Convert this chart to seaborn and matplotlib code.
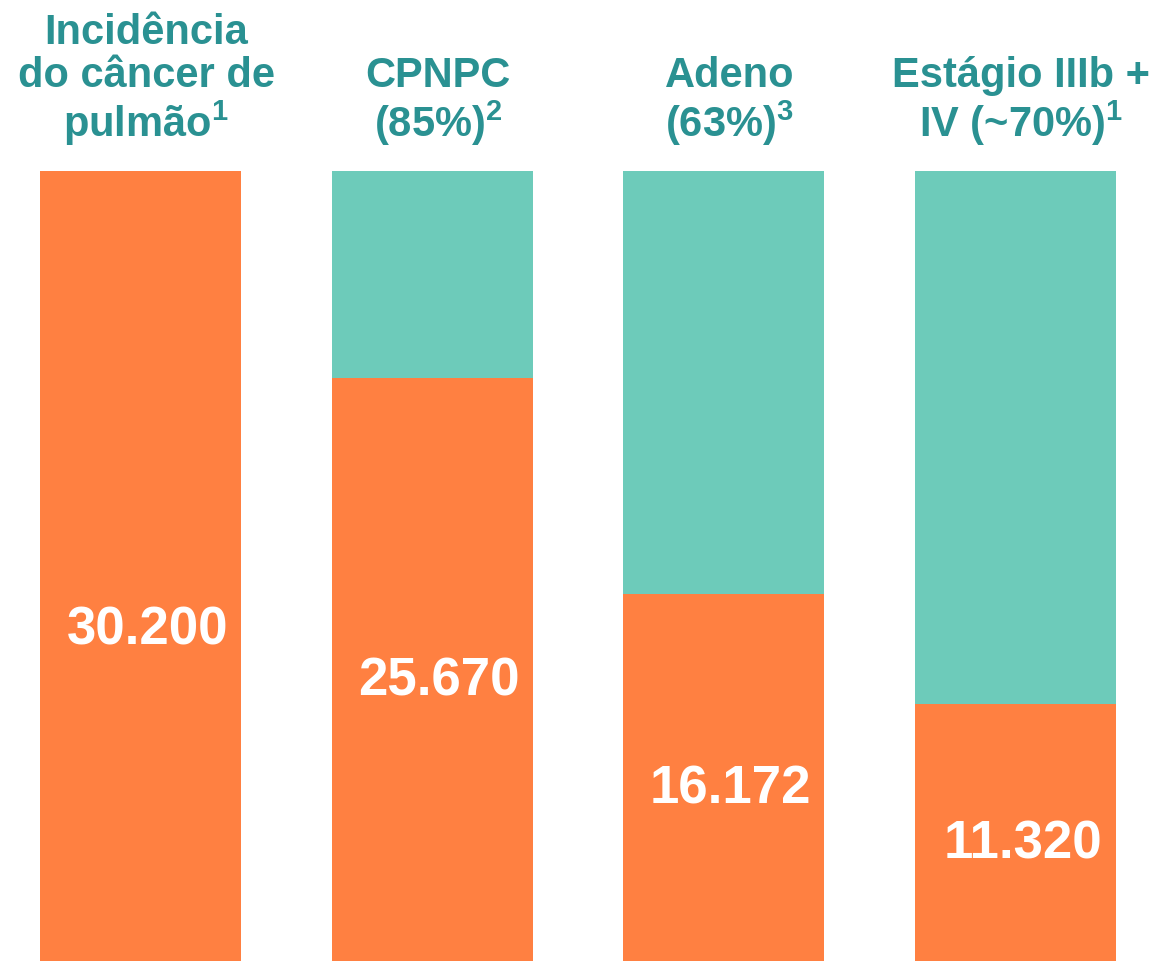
import matplotlib
matplotlib.use("Agg")
import matplotlib.pyplot as plt
import seaborn as sns
import pandas as pd

# ---- data ----
categories = ["Incidência\ndo câncer de\npulmão$^{\\mathbf{1}}$", "CPNPC\n(85%)$^{\\mathbf{2}}$",
              "Adeno\n(63%)$^{\\mathbf{3}}$", "Estágio IIIb +\nIV (~70%)$^{\\mathbf{1}}$"]
total_cases = [30200, 30200, 30200, 30200]
subset_cases = [30200, 25670, 16172, 11320]

ORANGE = "#FF8041"
TEAL = "#6DCBBA"
TITLE = "#2A9192"

sns.set_theme(style="white")
plt.rcParams["font.family"] = ["Liberation Sans", "DejaVu Sans"]
plt.rcParams["mathtext.fontset"] = "custom"
plt.rcParams["mathtext.rm"] = "Liberation Sans:bold"
plt.rcParams["mathtext.it"] = "Liberation Sans:bold"
plt.rcParams["mathtext.bf"] = "Liberation Sans:bold"

W, H = 1163, 962
fig = plt.figure(figsize=(W / 100, H / 100), dpi=100)
ax_h = 790 / H
ax = fig.add_axes([0, 0, 1, ax_h])

# extra cap shape on top of each bar (as in the slide)
cap_frac = 104 / 686
df = pd.DataFrame({
    "cat": categories,
    "total": total_cases,
    "value": subset_cases,
})
df["bg"] = df["total"] * (1 + cap_frac)
df["fg"] = [v + t * cap_frac if v >= t else v for v, t in zip(df["value"], df["total"])]

sns.barplot(data=df, x="cat", y="bg", color=TEAL, width=0.69, saturation=1,
            ax=ax, linewidth=0)
sns.barplot(data=df, x="cat", y="fg", color=ORANGE, width=0.69, saturation=1,
            ax=ax, linewidth=0)

spacing = 291.67
ax.set_xlim(-140.5 / spacing, (W - 140.5) / spacing)
ax.set_ylim(0, df["bg"].max())
ax.axis("off")

for i, (v, t) in enumerate(zip(subset_cases, total_cases)):
    label = f"{v:,}".replace(",", ".")
    ax.annotate(label, xy=(i, min(v, t) / 2), xytext=(5, -8), textcoords="offset points",
                ha="center", va="center", color="white", fontsize=38, fontweight="bold")

for i, cat in enumerate(categories):
    ax.annotate(cat, xy=(i, 1), xycoords=("data", "axes fraction"),
                xytext=(4, 25), textcoords="offset points",
                ha="center", va="baseline", multialignment="center",
                color=TITLE, fontsize=30, fontweight="bold", linespacing=1.08)

fig.savefig("out.png", dpi=100)
